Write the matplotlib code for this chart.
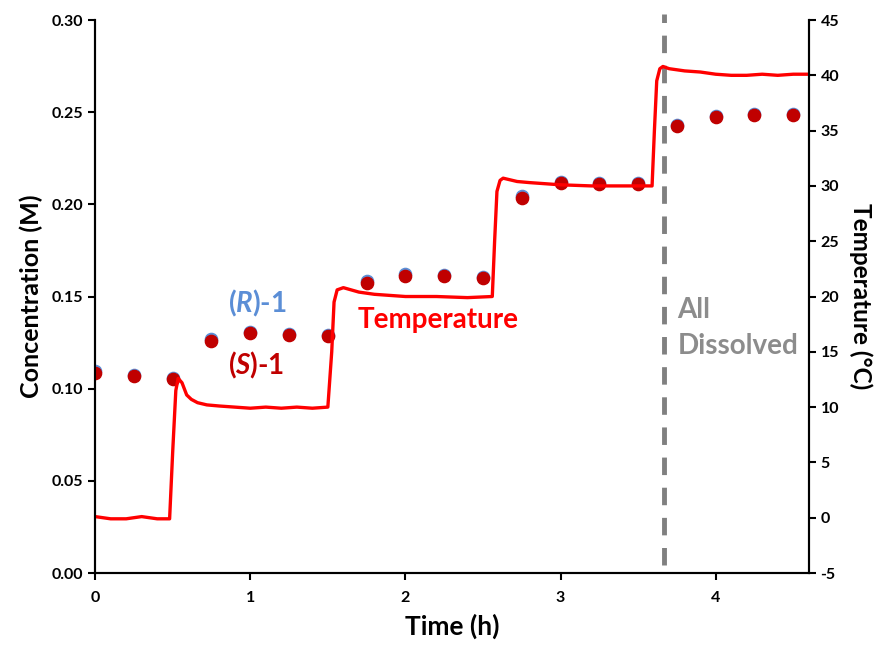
import matplotlib
matplotlib.use("Agg")
import matplotlib.pyplot as plt

plt.rcParams['font.family'] = ['Lato', 'DejaVu Sans']
plt.rcParams['font.weight'] = 'bold'
plt.rcParams['axes.unicode_minus'] = False
plt.rcParams['mathtext.fontset'] = 'custom'
plt.rcParams['mathtext.rm'] = 'Lato:bold'
plt.rcParams['mathtext.it'] = 'Lato:italic:bold'

# sampling times (h) and concentrations (M)
sample_time = [0, 0.25, 0.5, 0.75, 1.0, 1.25, 1.5, 1.75, 2.0, 2.25, 2.5,
               2.75, 3.0, 3.25, 3.5, 3.75, 4.0, 4.25, 4.5]
conc_R = [0.1095, 0.1075, 0.1060, 0.1270, 0.1310, 0.1298, 0.1293, 0.1585,
          0.1620, 0.1615, 0.1608, 0.2043, 0.2122, 0.2117, 0.2118, 0.2430,
          0.2477, 0.2488, 0.2488]
conc_S = [0.1087, 0.1069, 0.1053, 0.1259, 0.1304, 0.1291, 0.1286, 0.1575,
          0.1613, 0.1610, 0.1600, 0.2033, 0.2114, 0.2109, 0.2110, 0.2425,
          0.2473, 0.2485, 0.2485]

# reactor temperature log
temp_time = [0.0, 0.05, 0.1, 0.2, 0.3, 0.4, 0.48, 0.50, 0.52, 0.535, 0.56,
             0.59, 0.62, 0.66, 0.72, 0.8, 0.9, 1.0, 1.1, 1.2, 1.3, 1.4, 1.5,
             1.525, 1.54, 1.56, 1.6, 1.65, 1.7, 1.8, 1.9, 2.0, 2.2, 2.4, 2.56,
             2.575, 2.59, 2.61, 2.63, 2.66, 2.72, 2.8, 2.9, 3.0, 3.2, 3.4,
             3.59, 3.605, 3.62, 3.64, 3.66, 3.7, 3.8, 3.9, 4.0, 4.1, 4.2, 4.3,
             4.4, 4.5, 4.6]
temp_c = [0.1, 0.0, -0.1, -0.1, 0.1, -0.1, -0.1, 6.0, 11.5, 12.6, 12.2, 11.1,
          10.7, 10.4, 10.2, 10.1, 10.0, 9.9, 10.0, 9.9, 10.0, 9.9, 10.0, 15.0,
          19.5, 20.6, 20.8, 20.6, 20.4, 20.2, 20.1, 20.0, 20.0, 19.9, 20.0,
          25.0, 29.5, 30.5, 30.7, 30.6, 30.4, 30.3, 30.2, 30.1, 30.0, 30.0,
          30.0, 35.0, 39.5, 40.6, 40.8, 40.6, 40.4, 40.3, 40.1, 40.0, 40.0,
          40.1, 40.0, 40.1, 40.1]

dissolved_time = 3.67

fig = plt.figure(figsize=(8.81, 6.46), dpi=100)
ax = fig.add_axes([0.108, 0.113, 0.810, 0.856])
ax2 = ax.twinx()

ax.plot(sample_time, conc_R, 'o', color='#5B8ED6', markersize=8.8, zorder=3)
ax.plot(sample_time, conc_S, 'o', color='#C00000', markersize=8.8, zorder=4)
ax2.plot(temp_time, temp_c, '-', color='#FF0000', linewidth=2.4)
ax.axvline(dissolved_time, ymin=0.015, ymax=1.01, color='#808080',
           linewidth=3.5, dashes=(3.6, 2.6), clip_on=False, zorder=2)

ax.set_xlim(0, 4.6)
ax.set_ylim(0, 0.30)
ax2.set_ylim(-5, 45)
ax.set_xticks([0, 1, 2, 3, 4])
ax.set_yticks([0, 0.05, 0.10, 0.15, 0.20, 0.25, 0.30])
ax.set_yticklabels(['0.00', '0.05', '0.10', '0.15', '0.20', '0.25', '0.30'])
ax2.set_yticks(range(-5, 50, 5))

for a in (ax, ax2):
    a.spines['top'].set_visible(False)
    for s in a.spines.values():
        s.set_linewidth(1.5)
    a.tick_params(direction='out', width=1.5, length=5, labelsize=11.5)
ax.tick_params(axis='x', pad=8)

ax.set_xlabel('Time (h)', fontsize=19, fontweight='bold', labelpad=6)
ax.set_ylabel('Concentration (M)', fontsize=18, fontweight='bold', labelpad=6)
ax2.set_ylabel('Temperature (°C)', fontsize=17.5, fontweight='bold',
               rotation=270, labelpad=24)

ax.text(1.045, 0.1465, r'($\mathit{R}$)-1', color='#5B8ED6', fontsize=20,
        fontweight='bold', ha='center', va='center')
ax.text(1.04, 0.1128, r'($\mathit{S}$)-1', color='#C00000', fontsize=20,
        fontweight='bold', ha='center', va='center')
ax.text(2.21, 0.1373, 'Temperature', color='#FF0000', fontsize=20,
        fontweight='bold', ha='center', va='center')
ax.text(3.753, 0.1427, 'All', color='#8C8C8C', fontsize=20,
        fontweight='bold', ha='left', va='center')
ax.text(3.753, 0.1233, 'Dissolved', color='#8C8C8C', fontsize=20,
        fontweight='bold', ha='left', va='center')

fig.savefig('out.png', dpi=100)
